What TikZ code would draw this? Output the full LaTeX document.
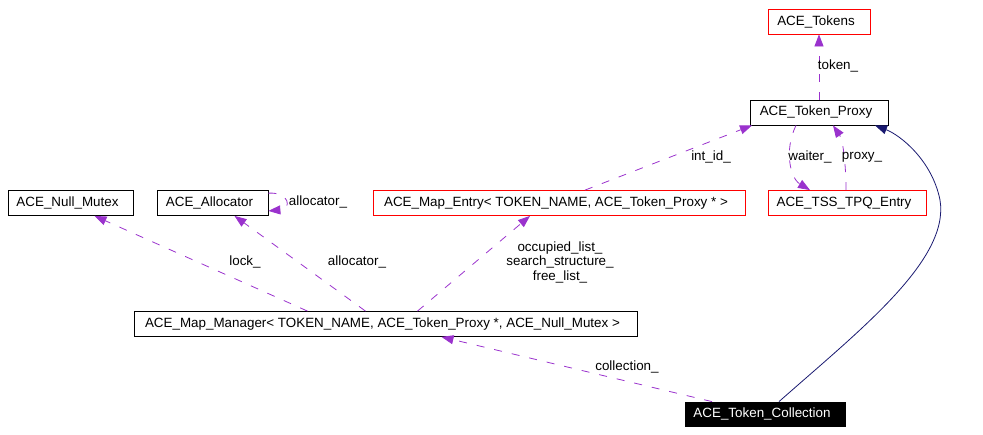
\documentclass[tikz,border=0pt]{standalone}
\usepackage{fontspec}
\setmainfont{Liberation Sans}
\usetikzlibrary{arrows.meta}
\definecolor{usecol}{RGB}{154,50,205}
\definecolor{inhcol}{RGB}{25,25,112}
\begin{document}
\begin{tikzpicture}[x=1pt,y=-1pt,
	cls/.style={draw=black,line width=0.8pt,minimum height=25pt,inner sep=0pt,font=\fontsize{13.4}{15}\selectfont,execute at begin node={\hspace*{-6pt}}},
	undoc/.style={cls,draw=red},
	lbl/.style={inner sep=0pt,align=center,font=\fontsize{13.4}{14.5}\selectfont},
	uses/.style={usecol,line width=0.8pt,dash pattern=on 8pt off 10pt,-{Triangle[length=12pt,width=9pt]}},
	inh/.style={inhcol,line width=0.8pt,-{Triangle[length=12pt,width=9pt]}}]
	    \useasboundingbox (0,0) rectangle (983,434);
	    \node[undoc,minimum width=102pt] (tokens) at (819,21.5) {ACE\_Tokens};
	    \node[cls,minimum width=138pt] (proxy) at (819,112.5) {ACE\_Token\_Proxy};
	    \node[undoc,minimum width=158pt] (tpq) at (847,203) {ACE\_TSS\_TPQ\_Entry};
	    \node[undoc,minimum width=372pt] (mapentry) at (559,203) {ACE\_Map\_Entry< TOKEN\_NAME, ACE\_Token\_Proxy * >};
	    \node[cls,minimum width=125pt] (nullmutex) at (70.5,203) {ACE\_Null\_Mutex};
	    \node[cls,minimum width=111pt] (allocator) at (212.5,203) {ACE\_Allocator};
	    \node[cls,minimum width=503pt] (mapmanager) at (385.5,324) {ACE\_Map\_Manager< TOKEN\_NAME, ACE\_Token\_Proxy *, ACE\_Null\_Mutex >};
	    \node[cls,fill=black,text=white,minimum width=160pt,minimum height=24pt] (collection) at (765,414) {ACE\_Token\_Collection};

	    \draw[uses] (proxy.north) -- (tokens.south);
	    \node[lbl] (ltoken) at (838,66) {token\_};
	    \draw[uses] ([xshift=26pt]mapentry.north) -- ([xshift=-67pt]proxy.south);
	    \node[lbl] (lintid) at (711,157) {int\_id\_};
	    \draw[uses] ([xshift=-23pt]proxy.south) .. controls (784,150) and (790,178) .. ([xshift=-37pt]tpq.north);
	    \node[lbl] (lwaiter) at (810,157) {waiter\_};
	    \draw[uses] ([xshift=-1pt]tpq.north) .. controls (846,165) and (843,140) .. ([xshift=14pt]proxy.south);
	    \node[lbl] (lproxy) at (862,157) {proxy\_};
	    \draw[uses] ([yshift=-3pt]allocator.north east) .. controls (290,192) and (292,209) .. ([yshift=5pt]allocator.south east);
	    \node[lbl] (lalloc) at (318,202) {allocator\_};
	    \draw[uses] ([xshift=-78pt]mapmanager.north) -- ([xshift=24pt]nullmutex.south);
	    \node[lbl] (llock) at (245,262) {lock\_};
	    \draw[uses] ([xshift=-20pt]mapmanager.north) -- ([xshift=22pt]allocator.south);
	    \node[lbl] (lallocator) at (357,262) {allocator\_};
	    \draw[uses] ([xshift=32pt]mapmanager.north) -- ([xshift=-29pt]mapentry.south);
	    \node[lbl] (llists) at (560,262) {occupied\_list\_\\search\_structure\_\\free\_list\_};
	    \draw[uses] ([xshift=-53pt]collection.north) -- ([xshift=56pt]mapmanager.south);
	    \node[lbl] (lcollection) at (627,367) {collection\_};
	    \draw[inh] ([xshift=14pt]collection.north) .. controls (860,330) and (950,260) .. (940,200) .. controls (932,160) and (900,135) .. ([xshift=56pt]proxy.south);

	\end{tikzpicture}
\end{document}
